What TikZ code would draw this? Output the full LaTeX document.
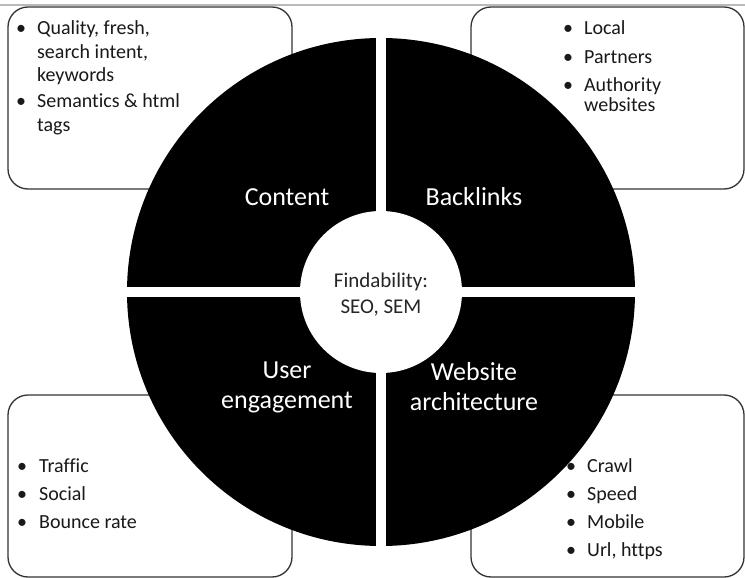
\documentclass[tikz,border=0pt]{standalone}
\usepackage{fontspec}
\setmainfont{Carlito}[Ligatures={NoCommon}]
\usetikzlibrary{positioning}

\tikzset{
  infobox/.style={draw=black!80, line width=1.3pt, rounded corners=20pt, fill=white},
  gapline/.style={draw=white, line width=10pt},
  itemlist/.style={anchor=base west, inner sep=0pt, text=black!90},
  quadlabel/.style={text=white, align=center, font=\fontsize{26}{30}\selectfont},
  hubtext/.style={text=black!85, align=center, font=\fontsize{21}{26}\selectfont}
}
\newcommand{\bul}{\textbullet}

\begin{document}
\begin{tikzpicture}[x=1pt,y=-1pt]
    \useasboundingbox (0,0) rectangle (745,578);
    \draw[gray!55, line width=2pt] (0,5) -- (745,5);
    \draw[infobox] (8,7) rectangle (292,189);
    \draw[infobox] (471,7) rectangle (744,189);
    \draw[infobox] (8,395) rectangle (292,577);
    \draw[infobox] (471,395) rectangle (744,577);
    \coordinate (hub) at (381,292);
    \fill[black] (hub) circle[radius=254];
    \draw[gapline] (381,37) -- (381,547);
    \draw[gapline] (126,292) -- (636,292);
    \fill[white] (hub) circle[radius=81];
    \node[hubtext] (findability) at (381,295) {Findability:\\SEO, SEM};
    \node[quadlabel] (content) at (287,197) {Content};
    \node[quadlabel] (backlinks) at (474,197) {Backlinks};
    \node[quadlabel] (engagement) at (287,387) {User\\engagement};
    \node[quadlabel] (architecture) at (474,387) {Website\\architecture};
    \node[itemlist, font=\fontsize{20}{23.5}\selectfont] (contentlist) at (16,35)
        {\begin{tabular}[t]{@{}l@{\hspace{11pt}}l@{}}
         \bul & Quality, fresh,\\ & search intent,\\ & keywords\\[2.5pt]
         \bul & Semantics \& html\\ & tags
         \end{tabular}};
    \node[itemlist, font=\fontsize{20}{20}\selectfont] (backlinkslist) at (563,35)
        {\begin{tabular}[t]{@{}l@{\hspace{11pt}}l@{}}
         \bul & Local\\[8.5pt] \bul & Partners\\[8.5pt] \bul & Authority\\ & websites
         \end{tabular}};
    \node[itemlist, font=\fontsize{20}{23}\selectfont] (engagementlist) at (17,472)
        {\begin{tabular}[t]{@{}l@{\hspace{12pt}}l@{}}
         \bul & Traffic\\[5.3pt] \bul & Social\\[5.3pt] \bul & Bounce rate
         \end{tabular}};
    \node[itemlist, font=\fontsize{20}{23}\selectfont] (architecturelist) at (566,472)
        {\begin{tabular}[t]{@{}l@{\hspace{11pt}}l@{}}
         \bul & Crawl\\[5.3pt] \bul & Speed\\[5.3pt] \bul & Mobile\\[5.3pt] \bul & Url, https
         \end{tabular}};
\end{tikzpicture}
\end{document}
